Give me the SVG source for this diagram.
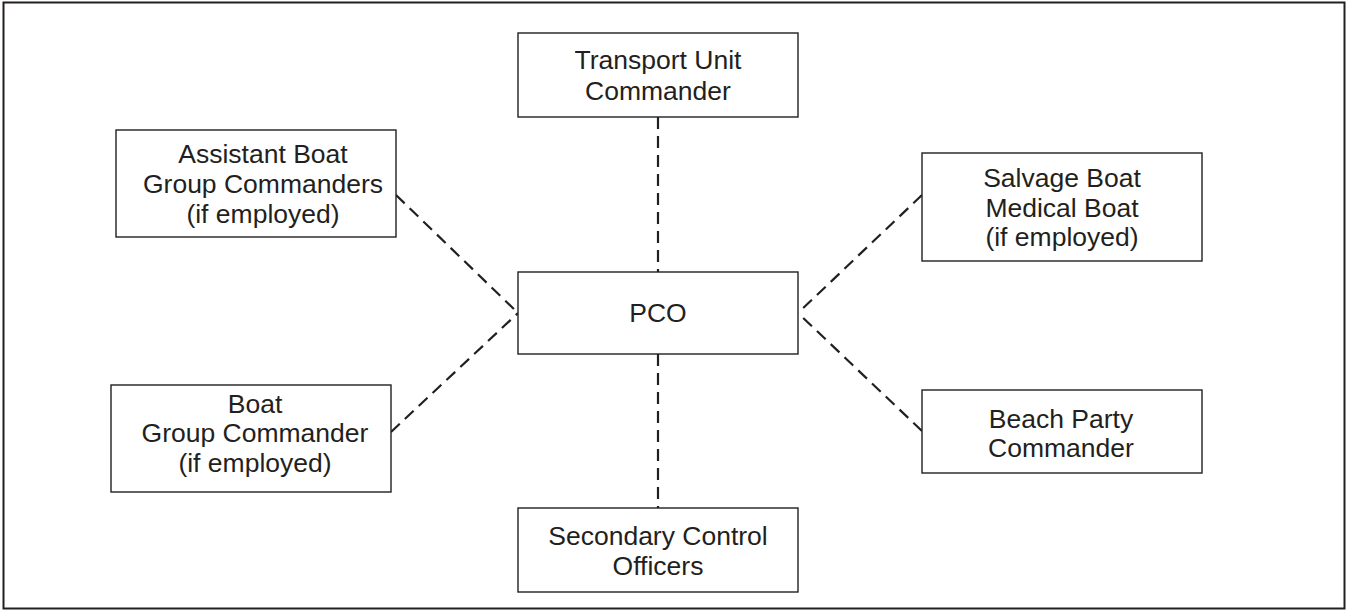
<svg xmlns="http://www.w3.org/2000/svg" width="1347" height="611" viewBox="0 0 1347 611">
<style>
.box{fill:#fff;stroke:#231f20;stroke-width:1.4}
.t{font-family:"Liberation Sans",Arial,sans-serif;font-size:26.5px;fill:#231f20;text-anchor:middle}
.c{stroke:#231f20;stroke-width:2.2;stroke-dasharray:12 7;fill:none}
</style>
<rect x="0" y="0" width="1347" height="611" fill="#fff"/>
<rect x="3.5" y="2.5" width="1341" height="606" fill="none" stroke="#231f20" stroke-width="2"/>
<g id="connectors">
<line class="c" x1="658" y1="117" x2="658" y2="272"/>
<line class="c" x1="658" y1="354" x2="658" y2="508"/>
<line class="c" x1="396" y1="195" x2="518" y2="313"/>
<line class="c" x1="391" y1="432" x2="518" y2="313"/>
<line class="c" x1="922" y1="195" x2="798" y2="313"/>
<line class="c" x1="922" y1="431" x2="798" y2="313"/>
</g>
<g id="transport">
<rect class="box" x="518" y="33" width="280" height="84"/>
<text class="t" x="658" y="69">Transport Unit</text>
<text class="t" x="658" y="100">Commander</text>
</g>
<g id="pco">
<rect class="box" x="518" y="272" width="280" height="82"/>
<text class="t" x="658" y="322">PCO</text>
</g>
<g id="assistant">
<rect class="box" x="116" y="130" width="280" height="107"/>
<text class="t" x="263" y="163">Assistant Boat</text>
<text class="t" x="263" y="193">Group Commanders</text>
<text class="t" x="263" y="223">(if employed)</text>
</g>
<g id="salvage">
<rect class="box" x="922" y="153" width="280" height="108"/>
<text class="t" x="1062" y="187">Salvage Boat</text>
<text class="t" x="1062" y="217">Medical Boat</text>
<text class="t" x="1062" y="246">(if employed)</text>
</g>
<g id="boat">
<rect class="box" x="111" y="385" width="280" height="107"/>
<text class="t" x="255" y="413">Boat</text>
<text class="t" x="255" y="442">Group Commander</text>
<text class="t" x="255" y="472">(if employed)</text>
</g>
<g id="beach">
<rect class="box" x="922" y="390" width="280" height="83"/>
<text class="t" x="1061" y="428">Beach Party</text>
<text class="t" x="1061" y="457">Commander</text>
</g>
<g id="secondary">
<rect class="box" x="518" y="508" width="280" height="84"/>
<text class="t" x="658" y="545">Secondary Control</text>
<text class="t" x="658" y="575">Officers</text>
</g>
</svg>
